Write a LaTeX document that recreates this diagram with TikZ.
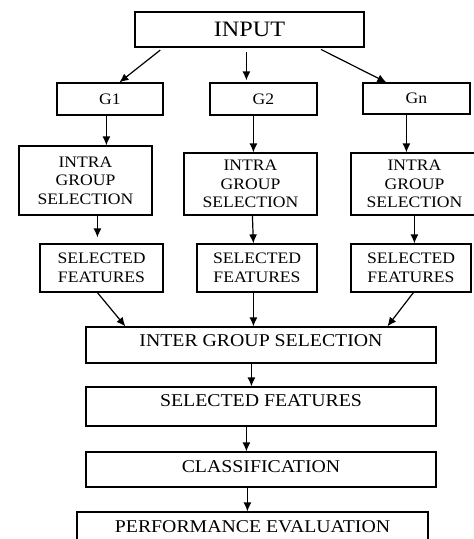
\documentclass[tikz,border=0pt]{standalone}
\usepackage{fontspec}
\setmainfont{Liberation Serif}[FakeStretch=1.1]
\usetikzlibrary{arrows.meta}

\begin{document}
\begin{tikzpicture}[x=1pt,y=-1pt,
        box/.style={draw,line width=1.2pt,inner sep=0pt,align=center},
        arr/.style={line width=1.2pt,-{Latex[length=9pt,width=8pt]}},
        small/.style={font=\fontsize{16}{18.5}\selectfont},
        big/.style={font=\fontsize{18}{21}\selectfont,text height=12pt}]
                \useasboundingbox (0,0) rectangle (474,539);
                \clip (0,0) rectangle (474,539);

                \node[box,minimum width=229pt,minimum height=35pt,font=\fontsize{22}{26}\selectfont] (input) at (249.5,29.5) {INPUT};

                \node[box,small,minimum width=106pt,minimum height=32pt] (g1) at (110,99) {G1};
                \node[box,small,minimum width=107pt,minimum height=32pt] (g2) at (263.5,99) {G2};
                \node[box,small,minimum width=107pt,minimum height=31pt] (gn) at (416.5,98.5) {Gn};

                \node[box,small,minimum width=133pt,minimum height=69pt] (intra1) at (85.5,180.5) {INTRA\\GROUP\\SELECTION};
                \node[box,small,minimum width=133pt,minimum height=62pt] (intra2) at (250.5,184) {INTRA\\GROUP\\SELECTION};
                \node[box,small,minimum width=127pt,minimum height=62pt] (intra3) at (414.5,184) {INTRA\\GROUP\\SELECTION};

                \node[box,small,minimum width=123pt,minimum height=48pt] (sel1) at (101.5,268) {SELECTED\\FEATURES};
                \node[box,small,minimum width=120pt,minimum height=48pt] (sel2) at (257,268) {SELECTED\\FEATURES};
                \node[box,small,minimum width=120pt,minimum height=48pt] (sel3) at (411,268) {SELECTED\\FEATURES};

                \node[box,big,text depth=9pt,minimum width=350pt,minimum height=36pt] (inter) at (261,345) {INTER GROUP SELECTION};
                \node[box,big,text depth=12pt,minimum width=350pt,minimum height=39pt] (selall) at (261,406.5) {SELECTED FEATURES};
                \node[box,big,text depth=6pt,minimum width=350pt,minimum height=35pt] (classif) at (261,469.5) {CLASSIFICATION};
                \node[box,big,text depth=7pt,minimum width=351pt,minimum height=36pt] (perf) at (252.5,530) {PERFORMANCE EVALUATION};

                % input to the groups
                \draw[arr,shorten <=4pt] ([xshift=29pt]input.south west) -- ([xshift=63pt]g1.north west);
                \draw[arr,shorten <=4pt,shorten >=2pt] ([xshift=112pt]input.south west) -- ([xshift=37pt]g2.north west);
                \draw[arr,shorten <=4pt] ([xshift=183pt]input.south west) -- ([xshift=24pt]gn.north west);

                % groups
                \draw[arr] ([xshift=50pt]g1.south west) -- ([xshift=88pt]intra1.north west);
                \draw[arr] ([xshift=44pt]g2.south west) -- ([xshift=70pt]intra2.north west);
                \draw[arr] ([xshift=44pt]gn.south west) -- ([xshift=56pt]intra3.north west);

                \draw[arr,shorten >=6pt] ([xshift=79pt]intra1.south west) -- ([xshift=58pt]sel1.north west);
                \draw[arr] ([xshift=69pt]intra2.south west) -- ([xshift=57pt]sel2.north west);
                \draw[arr] ([xshift=64pt]intra3.south west) -- ([xshift=64pt]sel3.north west);

                \draw[arr] ([xshift=58pt]sel1.south west) -- ([xshift=40pt]inter.north west);
                \draw[arr] ([xshift=57pt]sel2.south west) -- ([xshift=168pt]inter.north west);
                \draw[arr] ([xshift=63pt]sel3.south west) -- ([xshift=302pt]inter.north west);

                % down the column
                \draw[arr] ([xshift=166pt]inter.south west) -- ([xshift=166pt]selall.north west);
                \draw[arr] ([xshift=161pt]selall.south west) -- ([xshift=161pt]classif.north west);
                \draw[arr] ([xshift=162pt]classif.south west) -- ([xshift=171pt]perf.north west);

\end{tikzpicture}
\end{document}
